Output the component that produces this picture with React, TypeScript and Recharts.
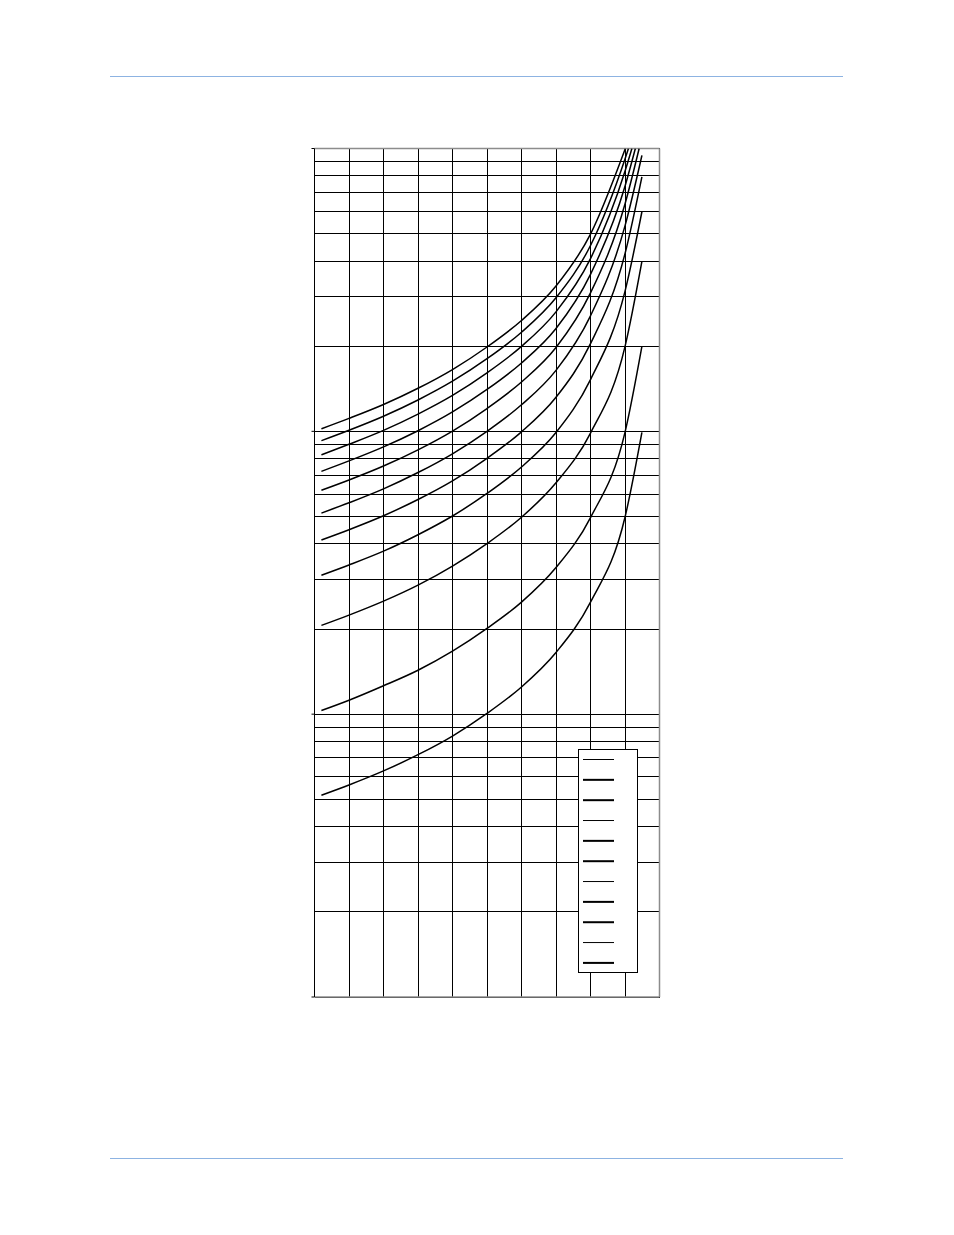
import React from 'react';
import { LineChart, Line, XAxis, YAxis, CartesianGrid, ReferenceLine, Legend } from 'recharts';

// x positions where each curve was read
const X_POINTS = [0.2, 1, 2, 3, 4, 5, 6, 7, 8, 9];
const X_TICKS = [0, 1, 2, 3, 4, 5, 6, 7, 8, 9, 10];
const X_INNER_GRID = [1, 2, 3, 4, 5, 6, 7, 8, 9];
const Y_DECADES = [0.1, 1, 10, 100];
const Y_GRID = [
  0.1, 0.2, 0.3, 0.4, 0.5, 0.6, 0.7, 0.8, 0.9,
  1, 2, 3, 4, 5, 6, 7, 8, 9,
  10, 20, 30, 40, 50, 60, 70, 80, 90, 100,
];

// curve values (top curve first) at X_POINTS
const curve1 = [10.21, 11.11, 12.44, 14.2, 16.54, 19.87, 24.66, 32.65, 49.81, null];
const curve2 = [9.27, 10.09, 11.31, 12.91, 15.04, 18.06, 22.41, 29.67, 45.39, 91.81];
const curve3 = [8.26, 9.0, 10.08, 11.51, 13.4, 16.1, 19.97, 26.45, 40.79, 83.07];
const curve4 = [7.22, 7.86, 8.81, 10.05, 11.71, 14.06, 17.45, 23.1, 35.91, 73.57];
const curve5 = [6.19, 6.73, 7.54, 8.6, 10.02, 12.04, 14.94, 19.78, 30.86, 63.66];
const curve6 = [5.14, 5.59, 6.26, 7.15, 8.33, 10.0, 12.41, 16.43, 25.61, 53.27];
const curve7 = [4.13, 4.49, 5.03, 5.74, 6.68, 8.03, 9.96, 13.19, 20.41, 42.46];
const curve8 = [3.1, 3.37, 3.77, 4.31, 5.02, 6.03, 7.48, 9.9, 15.24, 31.26];
const curve9 = [2.06, 2.24, 2.51, 2.86, 3.34, 4.01, 4.97, 6.58, 9.86, 19.92];
const curve10 = [1.03, 1.12, 1.26, 1.43, 1.67, 2.01, 2.49, 3.3, 4.955, 9.92];
const curve11 = [0.517, 0.562, 0.63, 0.719, 0.837, 1.006, 1.248, 1.652, 2.489, 4.97];

// last point of each curve (exit at the top border or end of curve)
const END_X = [9.01, 9.1, 9.2, 9.3, 9.41, 9.49, 9.49, 9.49, 9.49, 9.49, 9.49];
const END_Y = [100, 100, 100, 100, 100, 94.5, 79.4, 59.75, 39.88, 19.97, 9.92];

const CURVE_NAMES = [
  'Curve 1', 'Curve 2', 'Curve 3', 'Curve 4', 'Curve 5', 'Curve 6',
  'Curve 7', 'Curve 8', 'Curve 9', 'Curve 10', 'Curve 11',
];

const LEGEND_WIDTHS = [1, 2, 2, 1, 2, 2, 1, 2, 2, 1, 2];

const CURVES = [curve1, curve2, curve3, curve4, curve5, curve6, curve7, curve8, curve9, curve10, curve11];

const seriesData = CURVES.map((vals, i) => {
  const pts: { x: number; y: number }[] = [];
  X_POINTS.forEach((x, j) => {
    const v = vals[j];
    if (v !== null && v !== undefined) pts.push({ x, y: v });
  });
  pts.push({ x: END_X[i], y: END_Y[i] });
  return pts;
});

const YTick = (props: any) => {
  const { x, y, payload } = props;
  const isDecade = Y_DECADES.some((d) => Math.abs(d - payload.value) < 1e-9);
  if (!isDecade) return <g />;
  return <line x1={x} x2={x + 3} y1={y} y2={y} stroke="#000" strokeWidth={1} />;
};

const renderLegend = (props: any) => {
  const payload = props.payload || [];
  return (
    <div
      style={{
        width: 60,
        height: 224,
        border: '1px solid #000',
        background: '#fff',
        boxSizing: 'border-box',
      }}
    >
      <svg width={58} height={222} style={{ display: 'block' }}>
        {payload.map((entry: any, i: number) => {
          const yy = 9.5 + i * 20.34;
          return (
            <line
              key={i}
              x1={4}
              x2={35}
              y1={yy}
              y2={yy}
              stroke="#000"
              strokeWidth={LEGEND_WIDTHS[i] ?? 1}
            />
          );
        })}
      </svg>
    </div>
  );
};

export default function App() {
  return (
    <div style={{ position: 'relative', width: 938, height: 1219 }}>
      <div
        style={{
          position: 'absolute',
          left: 102,
          top: 68,
          width: 733,
          height: 1,
          background: '#8db3e2',
        }}
      />
      <div
        style={{
          position: 'absolute',
          left: 102,
          top: 1150,
          width: 733,
          height: 1,
          background: '#8db3e2',
        }}
      />
      <div style={{ position: 'absolute', left: 0, top: 0 }}>
        <LineChart
          width={938}
          height={1020}
          margin={{ top: 140.5, right: 286.5, bottom: 21, left: 246.5 }}
        >
          <CartesianGrid stroke="#000" strokeWidth={1} vertical={false} shapeRendering="crispEdges" />
          <XAxis
            type="number"
            dataKey="x"
            domain={[0, 10]}
            ticks={X_TICKS}
            interval={0}
            tick={false}
            tickLine={false}
            axisLine={{ stroke: '#8c8c8c', strokeWidth: 1.5 }}
            height={10}
            allowDataOverflow
          />
          <YAxis
            type="number"
            scale="log"
            domain={[0.1, 100]}
            ticks={Y_GRID}
            interval={0}
            tick={<YTick />}
            tickLine={false}
            tickSize={3}
            tickMargin={0}
            width={60}
            axisLine={{ stroke: '#000' }}
            allowDataOverflow
          />
          {X_INNER_GRID.map((gx) => (
            <ReferenceLine
              key={'gx' + gx}
              x={gx}
              stroke="#000"
              strokeWidth={1}
              shapeRendering="crispEdges"
            />
          ))}
          <ReferenceLine y={100} stroke="#8c8c8c" strokeWidth={1.5} />
          <ReferenceLine x={10} stroke="#8c8c8c" strokeWidth={1.5} />
          {seriesData.map((d, i) => (
            <Line
              key={CURVE_NAMES[i]}
              name={CURVE_NAMES[i]}
              data={d}
              dataKey="y"
              type="monotone"
              stroke="#000"
              strokeWidth={1.5}
              dot={false}
              activeDot={false}
              isAnimationActive={false}
            />
          ))}
          <Legend
            layout="vertical"
            align="center"
            verticalAlign="middle"
            wrapperStyle={{ left: 570, top: 741, width: 60 }}
            content={renderLegend}
          />
        </LineChart>
      </div>
    </div>
  );
}
